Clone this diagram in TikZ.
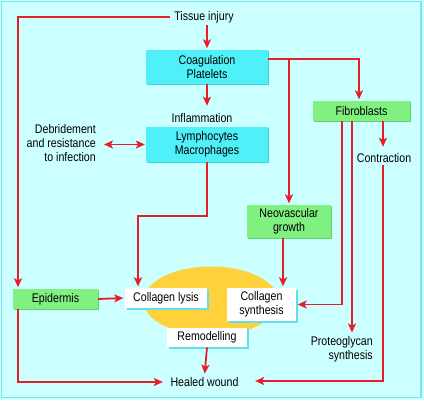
\documentclass[tikz,border=0pt]{standalone}
\usepackage{fontspec}
\setmainfont{Liberation Sans}[FakeStretch=0.85]
\usetikzlibrary{arrows.meta,shadows}
\definecolor{bgc}{RGB}{204,255,255}
\definecolor{framec}{RGB}{120,228,238}
\definecolor{cyanbox}{RGB}{80,240,248}
\definecolor{cyanshadow}{RGB}{60,210,228}
\definecolor{greenbox}{RGB}{128,240,128}
\definecolor{greenshadow}{RGB}{96,210,110}
\definecolor{whiteshadow}{RGB}{100,222,235}
\definecolor{redc}{RGB}{230,30,40}
\definecolor{ellc}{RGB}{255,210,60}
\begin{document}
\begin{tikzpicture}[x=1pt,y=-1pt,
  every node/.style={font=\fontsize{12.5}{14}\selectfont, inner sep=2pt, text=black, align=center},
  cbox/.style={fill=cyanbox, drop shadow={shadow xshift=1pt, shadow yshift=-1pt, fill=cyanshadow, opacity=1}},
  gbox/.style={fill=greenbox, drop shadow={shadow xshift=1pt, shadow yshift=-1pt, fill=greenshadow, opacity=1}},
  wbox/.style={fill=white, drop shadow={shadow xshift=1.5pt, shadow yshift=-1.5pt, fill=whiteshadow, opacity=1}},
  arr/.style={draw=redc, line width=1.8pt, shorten >=1.5pt, -{Stealth[length=9pt,width=8pt,inset=2.2pt]}},
  darr/.style={draw=redc, line width=1.8pt, shorten >=1pt, shorten <=1pt, {Stealth[length=9pt,width=8pt,inset=2.2pt]}-{Stealth[length=9pt,width=8pt,inset=2.2pt]}}
]
\useasboundingbox (0,0) rectangle (424,400);
\fill[bgc] (0,0) rectangle (424,400);
\draw[framec, line width=1.5pt] (1.5,1.5) rectangle (421,397.5);

% central ellipse
\fill[ellc] (211,301) ellipse [x radius=67.5, y radius=34.5];

% boxes
\node[cbox, minimum width=122pt, minimum height=34pt] (coag) at (207,67) {Coagulation\\Platelets};
\node[cbox, minimum width=122pt, minimum height=35pt] (lymph) at (207,144.5) {Lymphocytes\\Macrophages};
\node[gbox, minimum width=97pt, minimum height=20pt] (fib) at (361.5,111) {Fibroblasts};
\node[gbox, minimum width=84pt, minimum height=33pt] (neo) at (289,221.5) {Neovascular\\growth};
\node[gbox, minimum width=85pt, minimum height=20pt] (epi) at (55.5,299) {Epidermis};
\node[wbox, minimum width=82pt, minimum height=20pt] (lysis) at (166,298) {Collagen lysis};
\node[wbox, minimum width=69pt, minimum height=33pt] (synth) at (261.5,304.5) {Collagen\\synthesis};
\node[wbox, minimum width=80pt, minimum height=19.5pt] (remod) at (207,337.5) {Remodelling};

% text labels
\node (tissue) at (204,17) {Tissue injury};
\node (inflam) at (202,118) {Inflammation};
\node[anchor=east, align=right] (debr) at (98,143.5) {Debridement\\and resistance\\to infection};
\node (contr) at (384,158) {Contraction};
\node[anchor=east, align=right] (proteo) at (375,349) {Proteoglycan\\synthesis};
\node (healed) at (204.5,382) {Healed wound};

% connectors
\draw[arr] ([xshift=-2pt]tissue.west) -| ([xshift=-37.5pt]epi.north);
\draw[arr] (coag.north |- tissue.south) -- (coag.north);
\draw[arr] (coag.south) -- ([yshift=4pt]coag.south |- inflam.north);
\draw[arr] ([yshift=8pt]coag.east) -| ([xshift=-2.5pt]fib.north);
\draw[arr] ([yshift=8pt]coag.east -| neo.north) -- (neo.north);
\draw[darr] ([xshift=5pt]debr.east |- lymph.west) -- (lymph.west);
\draw[arr] (lymph.south) -- ++(0,54) -| ([xshift=-28pt]lysis.north);
\draw[arr] ([xshift=-6pt]neo.south) -- ([xshift=-6pt]neo.south |- synth.north);
\draw[arr] ([xshift=-19.5pt]fib.south) |- (synth.east);
\draw[arr] ([xshift=-9.5pt]fib.south) -- ([xshift=-9.5pt]fib.south |- proteo.north);
\draw[arr] ([xshift=21.5pt]fib.south) -- ([xshift=21.5pt,yshift=3pt]fib.south |- contr.north);
\draw[arr] ([xshift=-1pt]contr.south) |- ([xshift=13pt,yshift=1pt]healed.east);
\draw[arr] (epi.east) -- (lysis.west);
\draw[arr] ([xshift=-37.5pt]epi.south) |- ([xshift=-4pt]healed.west);
\draw[arr] (remod.south) -- (healed.north);
\end{tikzpicture}
\end{document}
